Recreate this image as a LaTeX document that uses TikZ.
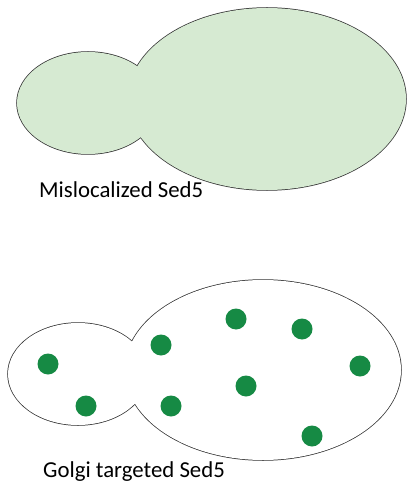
\documentclass[tikz,border=0pt]{standalone}
\usepackage{fontspec}
\setmainfont{Carlito}
\usepackage{tikz}
\usetikzlibrary{positioning}
\definecolor{cellgreen}{RGB}{214,234,210}
\definecolor{golgigreen}{RGB}{22,138,68}
\tikzstyle{wall} = [line width=1.5pt, draw=black!80]
\tikzstyle{vesicle} = [circle, fill=golgigreen, minimum size=21pt, inner sep=0pt]
\tikzstyle{caption} = [font=\fontsize{22.8}{27}\selectfont, anchor=base west, inner sep=0pt]

\begin{document}
\begin{tikzpicture}[x=1pt, y=-1pt]
                \useasboundingbox (0,0) rectangle (406,486);
                % budding cell, protein spread everywhere
                \draw[wall] (88,103) ellipse (71 and 51);
                \draw[wall] (267,99) ellipse (139 and 91);
                \fill[cellgreen] (88,103) ellipse (71 and 51);
                \fill[cellgreen] (267,99) ellipse (139 and 91);
                \node[caption] (mis) at (39,197) {Mislocalized Sed5};
                % budding cell, protein in golgi puncta
                \draw[wall] (78,374) ellipse (70 and 51);
                \draw[wall] (263,370) ellipse (138 and 90);
                \fill[white] (78,374) ellipse (70 and 51);
                \fill[white] (263,370) ellipse (138 and 90);
                \foreach \x/\y [count=\i] in {48/364, 86/406, 161/345, 171/406, 236/319, 302/329, 360/366, 246/386, 312/436}
                    \node[vesicle] (g\i) at (\x,\y) {};
                \node[caption] (golgi) at (43,477) {Golgi targeted Sed5};
            \end{tikzpicture}
\end{document}
